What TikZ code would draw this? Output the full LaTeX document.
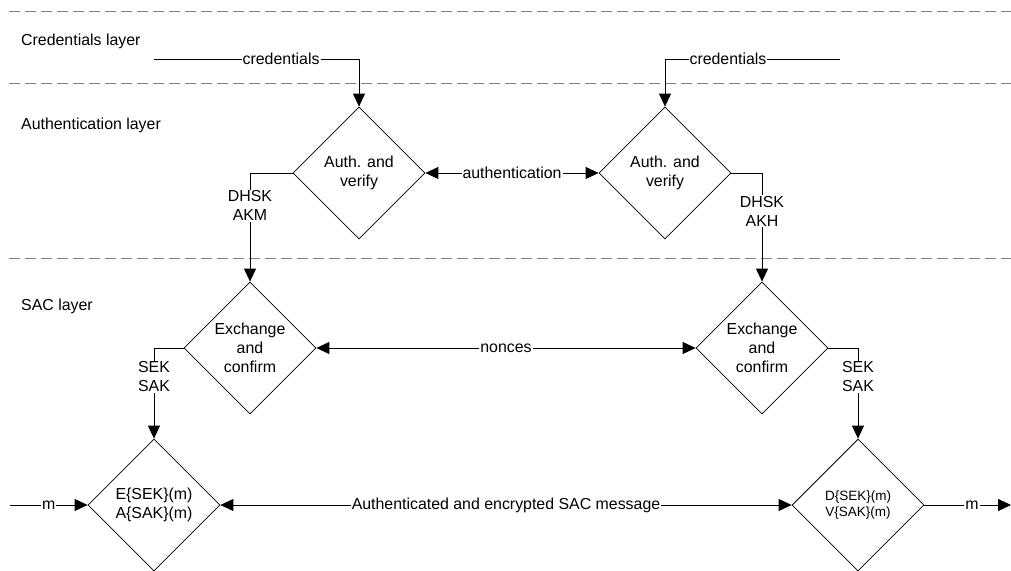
\documentclass[tikz,border=0pt]{standalone}
\usepackage{fontspec}
\setmainfont{Liberation Sans}
\usetikzlibrary{shapes.geometric,arrows.meta}
\begin{document}
\begin{tikzpicture}[x=1pt,y=-1pt,
  every node/.style={font=\fontsize{15.9}{19}\selectfont},
  dec/.style={draw, diamond, minimum width=132pt, minimum height=132pt, inner sep=0pt, align=center, line width=0.8pt},
  layerline/.style={draw=gray, dash pattern=on 11pt off 5pt, line width=1pt},
  conn/.style={line width=0.9pt, -{Triangle[length=13pt,width=12pt]}},
  biconn/.style={line width=0.9pt, {Triangle[length=13pt,width=12pt]}-{Triangle[length=13pt,width=12pt]}},
  lbl/.style={fill=white, inner sep=1pt, align=center},
  layerlbl/.style={anchor=west, inner sep=0pt}]
\useasboundingbox (0,0) rectangle (1011,570);

% layer separators
\coordinate (l1a) at (9,11);  \coordinate (l1b) at (1011,11);
\coordinate (l2a) at (9,83);  \coordinate (l2b) at (1011,83);
\coordinate (l3a) at (9,258); \coordinate (l3b) at (1011,258);
\draw[layerline] (l1a) -- (l1b);
\draw[layerline] (l2a) -- (l2b);
\draw[layerline] (l3a) -- (l3b);

% layer labels
\node[layerlbl] (cl) at (21,41) {Credentials layer};
\node[layerlbl] (al) at (21,125) {Authentication layer};
\node[layerlbl] (sl) at (21,306) {SAC layer};

% decision nodes
\node[dec] (d1) at (359,173) {Auth. and\\verify};
\node[dec] (d2) at (665,173) {Auth. and\\verify};
\node[dec] (d3) at (250,348) {Exchange\\and\\confirm};
\node[dec] (d4) at (762,348) {Exchange\\and\\confirm};
\node[dec] (d5) at (154,505) {E\{SEK\}(m)\\A\{SAK\}(m)};
\node[dec, font=\fontsize{13.5}{15.7}\selectfont] (d6) at (858,505) {D\{SEK\}(m)\\V\{SAK\}(m)};

% credentials inputs
\coordinate (c1) at (154,59);
\coordinate (c2) at (840,59);
\draw[conn] (c1) -| node[lbl,pos=0.31]{credentials} (d1.north);
\draw[conn] (c2) -| node[lbl,pos=0.32]{credentials} (d2.north);

% authentication
\draw[biconn] (d1.east) -- node[lbl]{authentication} (d2.west);

% keys down
\draw[conn] (d1.west) -| node[lbl,pos=0.65]{DHSK\\AKM} (d3.north);
\draw[conn] (d2.east) -| node[lbl,pos=0.675]{DHSK\\AKH} (d4.north);

% nonces
\draw[biconn] (d3.east) -- node[lbl]{nonces} (d4.west);

% session keys
\draw[conn] (d3.west) -| node[lbl,pos=0.66]{SEK\\SAK} (d5.north);
\draw[conn] (d4.east) -| node[lbl,pos=0.66]{SEK\\SAK} (d6.north);

% message
\draw[biconn] (d5.east) -- node[lbl]{Authenticated and encrypted SAC message} (d6.west);

% m in/out
\coordinate (min) at (10,505);
\coordinate (mout) at (1011,505);
\draw[conn] (min) -- node[lbl]{m} (d5.west);
\draw[conn] (d6.east) -- node[lbl,pos=0.55]{m} (mout);
\end{tikzpicture}
\end{document}
